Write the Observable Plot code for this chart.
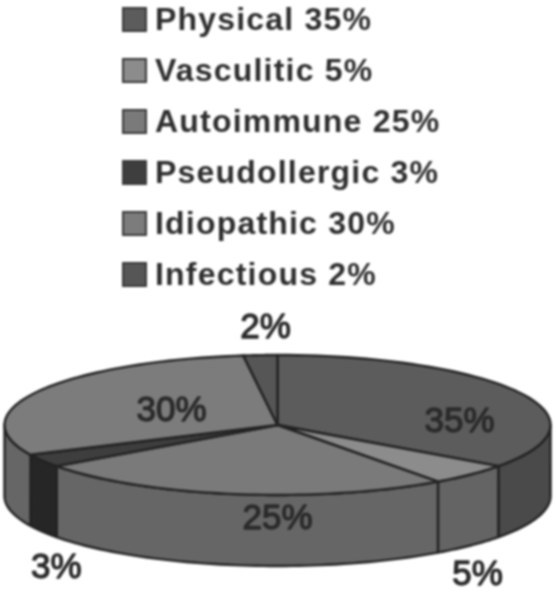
<!DOCTYPE html>
<html>
<head>
<meta charset="utf-8">
<script src="https://cdn.jsdelivr.net/npm/d3@7"></script>
<script src="https://cdn.jsdelivr.net/npm/@observablehq/plot@0.6"></script>
<style>
html,body{margin:0;padding:0;background:#fff}
#page{width:556px;height:593px;position:relative;overflow:hidden;filter:blur(0.8px)}
#legend{position:absolute;left:122px;top:7px;font:bold 32px "Liberation Sans",Arial,sans-serif;letter-spacing:1.2px;color:#2e2e2e}
.row{display:flex;align-items:center;height:25px;margin-bottom:26px;white-space:nowrap}
.sw{width:21px;height:21px;border:2px solid #3a3a3a;margin-right:8px;flex:none}
#chart{position:absolute;left:0;top:305px}
svg{display:block}
</style>
</head>
<body>
<div id="page"><div id="legend"></div><div id="chart"></div></div>
<script>
const categories = ["Physical","Vasculitic","Autoimmune","Pseudollergic","Idiopathic","Infectious"];
const percents = [35,5,25,3,30,2];
const topShades = ["#5c5c5c","#8c8c8c","#7a7a7a","#3e3e3e","#7c7c7c","#565656"];
const sideShades = ["#4a4a4a","#646464","#666666","#262626","#666666","#444444"];
// label anchors in pie units (x across, y up), one per slice
const labelX = [0.667,0.733,0.0,-0.81,-0.388,-0.044];
const labelY = [0.064,-2.12,-1.32,-2.02,0.22,1.41];

const depth = 1.014;
const TAU = 2*Math.PI;
const arcs = [];
let cum = 0;
percents.forEach((p,i)=>{arcs.push({i,a0:cum/100*TAU,a1:(cum+p)/100*TAU});cum+=p;});
const pt = (a,dy=0)=>({x:Math.sin(a),y:Math.cos(a)-dy});
const arcPts = (a0,a1,dy=0)=>d3.range(0,61).map(k=>pt(a0+(a1-a0)*k/60,dy));

const line = "#222222";
const sideMarks = arcs.flatMap(({i,a0,a1})=>{
  const s=Math.max(a0,Math.PI/2), e=Math.min(a1,3*Math.PI/2);
  if(e<=s) return [];
  const top=arcPts(s,e), bot=arcPts(s,e,depth).reverse();
  return [Plot.line([...top,...bot,top[0]],{x:"x",y:"y",fill:sideShades[i],stroke:line,strokeWidth:2.4})];
});
const topMarks = arcs.map(({i,a0,a1})=>{
  const pts=[{x:0,y:0},...arcPts(a0,a1),{x:0,y:0}];
  return Plot.line(pts,{x:"x",y:"y",fill:topShades[i],stroke:line,strokeWidth:2.4,strokeLinejoin:"round"});
});

const labels = percents.map((p,i)=>({t:p+"%",x:labelX[i],y:labelY[i]}));

const plot = Plot.plot({
  width:556,height:288,
  marginTop:0,marginRight:0,marginBottom:0,marginLeft:0,
  x:{domain:[-1,1],range:[4,550],axis:null},
  y:{domain:[1,-1],range:[49.5,189.5],axis:null},
  style:{background:"transparent"},
  marks:[
    ...sideMarks,
    ...topMarks,
    Plot.text(labels,{x:"x",y:"y",text:"t",fontSize:35,fill:"#2a2a2a",stroke:"#2a2a2a",strokeWidth:1.3,fontFamily:"Liberation Sans, Arial, sans-serif"})
  ]
});
document.getElementById("chart").append(plot);

const legend = document.getElementById("legend");
categories.forEach((c,i)=>{
  const r=document.createElement("div");r.className="row";
  const s=document.createElement("span");s.className="sw";s.style.background=topShades[i];
  const t=document.createElement("span");t.textContent=c+" "+percents[i]+"%";
  r.append(s,t);legend.append(r);
});
</script>
</body>
</html>
